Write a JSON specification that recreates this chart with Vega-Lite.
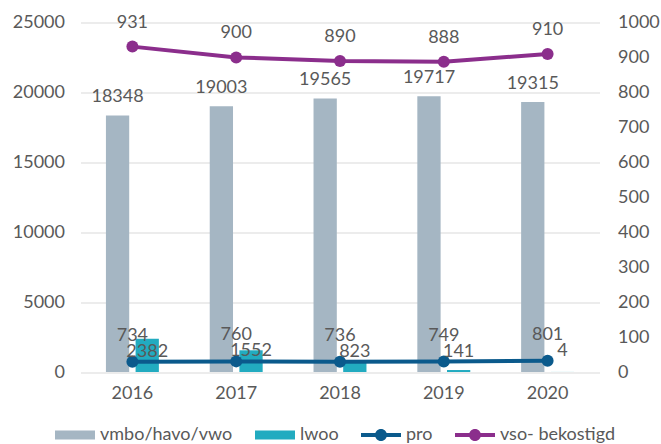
{
  "$schema": "https://vega.github.io/schema/vega-lite/v6.json",
  "width": 519,
  "height": 349.5,
  "autosize": "none",
  "padding": {"left": 80.5, "top": 22.5, "right": 61.5, "bottom": 72},
  "config": {
    "view": {"stroke": null},
    "font": "Lato",
    "axis": {"labelFont": "Lato", "labelFontSize": 18, "labelColor": "#595959", "domain": false, "ticks": false, "title": null, "labelOverlap": false, "format": "d"},
    "legend": {"labelFont": "Lato", "labelFontSize": 18, "labelColor": "#595959"},
    "text": {"font": "Lato", "fontSize": 18, "fill": "#595959"}
  },
  "data": {
    "values": [
      {"year": "2016", "vmbo": 18348, "lwoo": 2382, "pro": 734, "vso": 931},
      {"year": "2017", "vmbo": 19003, "lwoo": 1552, "pro": 760, "vso": 900},
      {"year": "2018", "vmbo": 19565, "lwoo": 823, "pro": 736, "vso": 890},
      {"year": "2019", "vmbo": 19717, "lwoo": 141, "pro": 749, "vso": 888},
      {"year": "2020", "vmbo": 19315, "lwoo": 4, "pro": 801, "vso": 910}
    ]
  },
  "encoding": {
    "x": {
      "field": "year",
      "type": "ordinal",
      "scale": {"paddingInner": 0.49, "paddingOuter": 0.245},
      "axis": {"labelAngle": 0, "labelPadding": 12, "grid": false, "format": null}
    }
  },
  "layer": [
    {
      "layer": [
        {
          "transform": [{"fold": ["vmbo", "lwoo"], "as": ["series", "value"]}],
          "mark": {"type": "bar"},
          "encoding": {
            "xOffset": {"field": "series", "type": "nominal", "sort": ["vmbo", "lwoo"], "scale": {"domain": ["vmbo", "lwoo"], "paddingInner": 0.215, "paddingOuter": 0}},
            "y": {
              "field": "value",
              "type": "quantitative",
              "scale": {"domain": [0, 25000], "nice": false},
              "axis": {"orient": "left", "values": [0, 5000, 10000, 15000, 20000, 25000], "grid": true, "gridColor": "#d9d9d9", "gridWidth": 1, "labelPadding": 16, "labelOverlap": false}
            },
            "color": {
              "field": "series",
              "type": "nominal",
              "scale": {"domain": ["vmbo", "lwoo", "pro", "vso"], "range": ["#A5B6C3", "#22ABC0", "#0B5A8C", "#8B2E8C"]},
              "legend": {
                "title": null,
                "orient": "none",
                "legendX": -25.5,
                "legendY": 392.5,
                "direction": "horizontal",
                "symbolSize": 1600,
                "symbolStrokeWidth": 0,
                "columnPadding": 22,
                "labelOffset": 5,
                "labelExpr": "datum.label == 'vmbo' ? 'vmbo/havo/vwo' : datum.label == 'vso' ? 'vso- bekostigd' : datum.label",
                "encode": {
                  "symbols": {
                    "update": {
                      "shape": {"signal": "datum.value == 'pro' || datum.value == 'vso' ? 'M-1,-0.1H1V0.1H-1Z M-0.3,0A0.3,0.3 0 1,1 0.3,0A0.3,0.3 0 1,1 -0.3,0Z' : 'M-1,-0.22H1V0.22H-1Z'"}
                    }
                  }
                }
              }
            }
          }
        },
        {
          "mark": {"type": "text", "baseline": "middle", "dy": -18},
          "encoding": {
            "xOffset": {"datum": "vmbo"},
            "y": {"field": "vmbo", "type": "quantitative"},
            "text": {"field": "vmbo", "type": "quantitative", "format": "d"}
          }
        },
        {
          "mark": {"type": "line", "color": "#0B5A8C", "strokeWidth": 4, "point": {"filled": true, "size": 144, "color": "#0B5A8C"}},
          "encoding": {
            "y": {"field": "pro", "type": "quantitative"}
          }
        },
        {
          "mark": {"type": "text", "baseline": "middle", "dy": -10},
          "encoding": {
            "xOffset": {"datum": "lwoo"},
            "y": {"field": "pro", "type": "quantitative"},
            "text": {"field": "lwoo", "type": "quantitative", "format": "d"}
          }
        },
        {
          "mark": {"type": "text", "baseline": "middle", "dy": -26},
          "encoding": {
            "y": {"field": "pro", "type": "quantitative"},
            "text": {"field": "pro", "type": "quantitative", "format": "d"}
          }
        }
      ]
    },
    {
      "encoding": {
        "y": {
          "field": "vso",
          "type": "quantitative",
          "scale": {"domain": [0, 1000], "nice": false},
          "axis": {"orient": "right", "values": [0, 100, 200, 300, 400, 500, 600, 700, 800, 900, 1000], "tickCount": 11, "grid": false, "labelPadding": 18, "labelOverlap": false}
        }
      },
      "layer": [
        {
          "mark": {"type": "line", "color": "#8B2E8C", "strokeWidth": 4, "point": {"filled": true, "size": 144, "color": "#8B2E8C"}}
        },
        {
          "mark": {"type": "text", "baseline": "middle", "dy": -24},
          "encoding": {
            "text": {"field": "vso", "type": "quantitative", "format": "d"}
          }
        }
      ]
    }
  ],
  "resolve": {"scale": {"y": "independent"}}
}
